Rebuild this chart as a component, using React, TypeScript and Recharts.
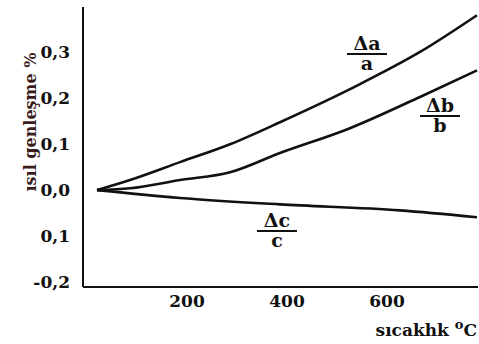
import React from "react";
import { LineChart, Line, XAxis, YAxis } from "recharts";

// temperature (°C) and thermal expansion (%)
const tempA = [20, 86, 186, 286, 386, 546, 666, 780];
const expA = [0, 0.022, 0.061, 0.1, 0.148, 0.231, 0.301, 0.381];
const tempB = [20, 86, 186, 286, 386, 526, 666, 780];
const expB = [0, 0.004, 0.022, 0.039, 0.081, 0.135, 0.203, 0.261];
const tempC = [20, 186, 386, 626, 780];
const expC = [0, -0.017, -0.031, -0.044, -0.059];

const xTicks = [200, 400, 600];
const yTicks = [-0.2, -0.1, 0, 0.1, 0.2, 0.3];
const yTickLabels = ["-0,2", "0,1", "0,0", "0,1", "0,2", "0,3"];

const toPoints = (t: number[], v: number[]) => t.map((x, i) => ({ t: x, v: v[i] }));
const seriesA = toPoints(tempA, expA);
const seriesB = toPoints(tempB, expB);
const seriesC = toPoints(tempC, expC);

const font = "'DejaVu Serif', 'Liberation Serif', serif";
const ink = "#111";

const XTick = (props: any) => (
  <text
    x={props.x}
    y={props.y + 20}
    textAnchor="middle"
    fontFamily={font}
    fontWeight="bold"
    fontSize={17}
    fill={ink}
  >
    {props.payload.value}
  </text>
);

const YTick = (props: any) => {
  const idx = yTicks.findIndex((t) => Math.abs(t - props.payload.value) < 1e-6);
  return (
    <text
      x={props.x - 13}
      y={props.y + 6}
      textAnchor="end"
      fontFamily={font}
      fontWeight="bold"
      fontSize={17}
      fill={ink}
    >
      {idx >= 0 ? yTickLabels[idx] : ""}
    </text>
  );
};

const Fraction = ({ cx, top, num, den }: { cx: number; top: number; num: string; den: string }) => (
  <g fontFamily={font} fontWeight="bold" fontSize={19} fill={ink}>
    <text x={cx} y={top} textAnchor="middle">
      {num}
    </text>
    <line x1={cx - 20} x2={cx + 20} y1={top + 4} y2={top + 4} stroke={ink} strokeWidth={2} />
    <text x={cx} y={top + 20} textAnchor="middle">
      {den}
    </text>
  </g>
);

export default function App() {
  return (
    <div style={{ position: "absolute", left: 0, top: 0, width: 479, height: 344, background: "#fff" }}>
      <LineChart width={479} height={344} margin={{ top: 7, right: 1, bottom: 0, left: 0 }}>
        <XAxis
          type="number"
          dataKey="t"
          domain={[-8, 782]}
          ticks={xTicks}
          height={57}
          tickLine={false}
          tickSize={0}
          tickMargin={0}
          axisLine={{ stroke: ink, strokeWidth: 2 }}
          tick={<XTick />}
          allowDataOverflow
        />
        <YAxis
          type="number"
          domain={[-0.211, 0.399]}
          ticks={yTicks}
          width={83}
          tickLine={false}
          tickSize={0}
          tickMargin={0}
          axisLine={{ stroke: ink, strokeWidth: 2 }}
          tick={<YTick />}
          allowDataOverflow
        />
        <Line data={seriesA} dataKey="v" type="monotone" stroke={ink} strokeWidth={2.6} dot={false} isAnimationActive={false} />
        <Line data={seriesB} dataKey="v" type="monotone" stroke={ink} strokeWidth={2.6} dot={false} isAnimationActive={false} />
        <Line data={seriesC} dataKey="v" type="monotone" stroke={ink} strokeWidth={2.6} dot={false} isAnimationActive={false} />
      </LineChart>
      <svg
        width={479}
        height={344}
        style={{ position: "absolute", left: 0, top: 0, pointerEvents: "none" }}
      >
        <text
          transform="translate(30,122) rotate(-90)"
          textAnchor="middle"
          dominantBaseline="central"
          fontFamily={font}
          fontWeight="bold"
          fontSize={16}
          fill="#3a1c1c"
        >
          ısıl genleşme %
        </text>
        <text x={477} y={336} textAnchor="end" fontFamily={font} fontWeight="bold" fontSize={17} fill={ink}>
          sıcakhk <tspan fontSize={13} dy={-7}>o</tspan>
          <tspan dy={7}>C</tspan>
        </text>
        <Fraction cx={367} top={50} num="Δa" den="a" />
        <Fraction cx={440} top={112} num="Δb" den="b" />
        <Fraction cx={277} top={227} num="Δc" den="c" />
      </svg>
    </div>
  );
}
